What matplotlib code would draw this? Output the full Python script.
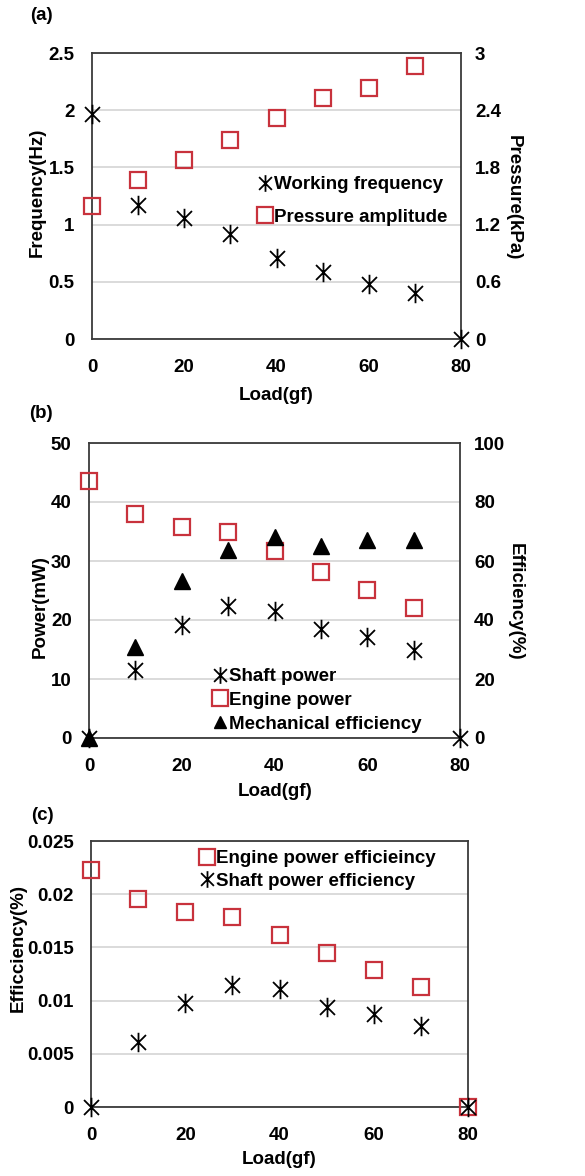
import matplotlib
matplotlib.use("Agg")
import matplotlib.pyplot as plt
from matplotlib.path import Path
from matplotlib.lines import Line2D

plt.rcParams["font.family"] = ["Liberation Sans", "DejaVu Sans"]
plt.rcParams["font.weight"] = "bold"
plt.rcParams["font.size"] = 13.5

# data
load = [0, 10, 20, 30, 40, 50, 60, 70, 80]
load7 = [0, 10, 20, 30, 40, 50, 60, 70]

freq = [1.97, 1.17, 1.06, 0.92, 0.71, 0.59, 0.48, 0.40, 0.0]
pressure = [1.39, 1.67, 1.88, 2.09, 2.32, 2.53, 2.63, 2.86]

shaft_power = [0.0, 11.6, 19.1, 22.3, 21.6, 18.4, 17.1, 14.9, 0.0]
engine_power = [43.5, 38.0, 35.7, 34.9, 31.7, 28.2, 25.1, 22.0]
mech_eff = [0.0, 30.7, 53.1, 63.8, 68.2, 65.0, 67.0, 67.2]

engine_eff = [0.02225, 0.01952, 0.01834, 0.01784, 0.01618, 0.01446, 0.01289, 0.01126, 0.0]
shaft_eff = [0.0, 0.00607, 0.00982, 0.01148, 0.01111, 0.00936, 0.00873, 0.00757, 0.0]

# asterisk marker: x plus vertical bar
star = Path([(-1, -1), (1, 1), (-1, 1), (1, -1), (0, -1.3), (0, 1.3)],
            [Path.MOVETO, Path.LINETO, Path.MOVETO, Path.LINETO, Path.MOVETO, Path.LINETO])

RED = "#c8323c"
FRAME = "#3a3a3a"
GRID = "#d4d4d4"

W, H = 585, 1176
fig = plt.figure(figsize=(W / 100, H / 100), dpi=100)


def px_text(x, y, s, rot=0):
    fig.text(x / W, 1 - y / H, s, ha="center", va="center", rotation=rot,
             fontsize=13.5, fontweight="bold")


def make_axes(left, right, top, bottom):
    ax = fig.add_axes([left / W, 1 - bottom / H, (right - left) / W, (bottom - top) / H])
    for s in ax.spines.values():
        s.set_color(FRAME)
        s.set_linewidth(1.3)
    ax.grid(axis="y", color=GRID, linewidth=1.2)
    ax.set_axisbelow(True)
    ax.tick_params(axis="y", length=0, pad=12.5)
    ax.tick_params(axis="x", length=0, pad=14.5)
    ax.set_xlim(0, 80)
    ax.set_xticks([0, 20, 40, 60, 80])
    return ax


def right_axes(ax):
    axr = ax.twinx()
    axr.tick_params(length=0, pad=10)
    for s in axr.spines.values():
        s.set_visible(False)
    return axr


def plot_star(ax, x, y):
    ax.plot(x, y, linestyle="none", marker=star, markersize=14, markerfacecolor="none",
            markeredgecolor="black", markeredgewidth=1.3, clip_on=False, zorder=5)


def plot_square(ax, x, y):
    ax.plot(x, y, linestyle="none", marker="s", markersize=12, markerfacecolor="none",
            markeredgecolor=RED, markeredgewidth=1.6, clip_on=False, zorder=4)


star_h = Line2D([], [], linestyle="none", marker=star, markersize=12, markerfacecolor="none",
                markeredgecolor="black", markeredgewidth=1.3)
sq_h = Line2D([], [], linestyle="none", marker="s", markersize=11, markerfacecolor="none",
              markeredgecolor=RED, markeredgewidth=1.6)
tri_h = Line2D([], [], linestyle="none", marker="^", markersize=9, color="black")


def add_legend(ax, handles, labels, x, y, spacing):
    ax.legend(handles, labels, loc="upper left", bbox_to_anchor=(x / W, 1 - y / H),
              bbox_transform=fig.transFigure, frameon=False, handlelength=0.6,
              handletextpad=0.2, labelspacing=spacing, borderpad=0, borderaxespad=0,
              prop={"weight": "bold", "size": 13.5})


# (a)
ax1 = make_axes(92, 461, 53, 339)
ax1.set_ylim(0, 2.5)
ax1.set_yticks([0, 0.5, 1, 1.5, 2, 2.5])
ax1.set_yticklabels(["0", "0.5", "1", "1.5", "2", "2.5"])
plot_star(ax1, load, freq)
ax1r = right_axes(ax1)
ax1r.set_ylim(0, 3)
ax1r.set_yticks([0, 0.6, 1.2, 1.8, 2.4, 3])
ax1r.set_yticklabels(["0", "0.6", "1.2", "1.8", "2.4", "3"])
plot_square(ax1r, load7, pressure)
add_legend(ax1, [star_h, sq_h], ["Working frequency", "Pressure amplitude"], 259, 176, 0.83)
px_text(41, 15, "(a)")
px_text(276, 395, "Load(gf)")
px_text(37, 192, "Frequency(Hz)", 90)
px_text(513, 198, "Pressure(kPa)", -90)

# (b)
ax2 = make_axes(89, 460, 443, 738)
ax2.set_ylim(0, 50)
ax2.set_yticks([0, 10, 20, 30, 40, 50])
plot_star(ax2, load, shaft_power)
ax2.plot(load7, engine_power, linestyle="none", marker="s", markersize=12, markerfacecolor="none",
         markeredgecolor=RED, markeredgewidth=1.6, clip_on=False, zorder=4)
ax2r = right_axes(ax2)
ax2r.set_ylim(0, 100)
ax2r.set_yticks([0, 20, 40, 60, 80, 100])
ax2r.plot(load7, mech_eff, linestyle="none", marker="^", markersize=11, color="black",
          clip_on=False, zorder=3)
add_legend(ax2, [star_h, sq_h, tri_h], ["Shaft power", "Engine power", "Mechanical efficiency"],
           214, 668, 0.36)
px_text(41, 413, "(b)")
px_text(275, 792, "Load(gf)")
px_text(40, 607, "Power(mW)", 90)
px_text(515, 602, "Efficiency(%)", -90)

# (c)
ax3 = make_axes(91, 468, 841, 1107)
ax3.set_ylim(0, 0.025)
ax3.set_yticks([0, 0.005, 0.01, 0.015, 0.02, 0.025])
ax3.set_yticklabels(["0", "0.005", "0.01", "0.015", "0.02", "0.025"])
plot_square(ax3, load, engine_eff)
plot_star(ax3, load, shaft_eff)
add_legend(ax3, [sq_h, star_h], ["Engine power efficieincy", "Shaft power efficiency"],
           201, 850, 0.3)
px_text(42, 815, "(c)")
px_text(279, 1160, "Load(gf)")
px_text(18, 948, "Efficciency(%)", 90)

fig.savefig("out.png", dpi=100)
